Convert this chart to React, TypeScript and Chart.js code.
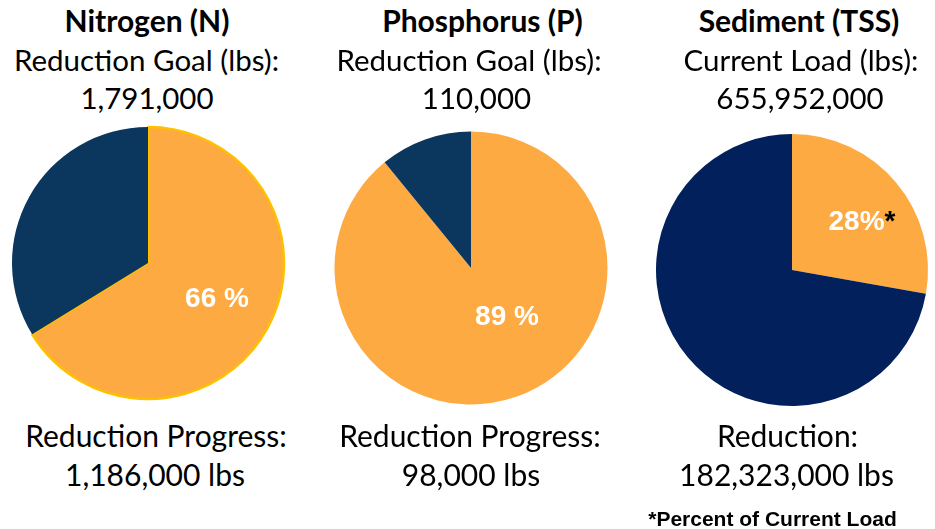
import React, { useEffect, useRef } from "react";
import { Chart, registerables } from "chart.js";

Chart.register(...registerables);

// ---- Data ----
const pollutants = ["Nitrogen (N)", "Phosphorus (P)", "Sediment (TSS)"];
const headerLabels = ["Reduction Goal (lbs):", "Reduction Goal (lbs):", "Current Load (lbs):"];
const headerValues = [1791000, 110000, 655952000];
const progressLabels = ["Reduction Progress:", "Reduction Progress:", "Reduction:"];
const progressValues = [1186000, 98000, 182323000];
const percentLabels = ["66 %", "89 %", "28%"];
const percentSuffix = ["", "", "*"];
const footnote = "*Percent of Current Load";

// ---- Styles / layout ----
const ORANGE = "#FDAA42";
const DARKS = ["#0B375F", "#0B375F", "#02215C"];
const TEXT_FONT = "Lato, 'Open Sans', sans-serif";
const ARIAL = "'Liberation Sans', Arial, sans-serif";

const layout = [
  { cx: 148, cy: 263, r: 136, border: 2.5, t: 147, h1: 146.5, h2: 147, b1: 156, b2: 155, lx: 69, ly: 44 },
  { cx: 471, cy: 268, r: 136.5, border: 0, t: 482.5, h1: 469, h2: 476.5, b1: 470, b2: 471, lx: 36, ly: 57 },
  { cx: 792, cy: 270, r: 136, border: 0, t: 799, h1: 801, h2: 800, b1: 787.5, b2: 786.5, lx: 70, ly: -40 },
];

const fmt = (v: number) => v.toLocaleString("en-US");

const labelPlugin = {
  id: "pctLabel",
  afterDatasetsDraw(chart: any) {
    const idx = chart.options.plugins.pctLabel.idx;
    const L = layout[idx];
    const arc = chart.getDatasetMeta(0).data[0];
    if (!arc) return;
    const { x, y } = arc;
    const ctx = chart.ctx;
    ctx.save();
    ctx.font = `bold 28px ${ARIAL}`;
    ctx.textBaseline = "alphabetic";
    const main = percentLabels[idx];
    const suf = percentSuffix[idx];
    const wMain = ctx.measureText(main).width;
    const wSuf = suf ? ctx.measureText(suf).width : 0;
    const total = wMain + wSuf;
    const sx = x + L.lx - total / 2;
    const by = y + L.ly;
    ctx.textAlign = "left";
    ctx.fillStyle = "#FFFFFF";
    ctx.fillText(main, sx, by);
    if (suf) {
      ctx.fillStyle = "#000000";
      ctx.fillText(suf, sx + wMain, by);
    }
    ctx.restore();
  },
};

function PieCanvas({ idx }: { idx: number }) {
  const ref = useRef<HTMLCanvasElement | null>(null);
  const L = layout[idx];
  useEffect(() => {
    if (!ref.current) return;
    const chart = new Chart(ref.current, {
      type: "pie",
      data: {
        labels: ["Reduced", "Remaining"],
        datasets: [
          {
            data: [progressValues[idx], headerValues[idx] - progressValues[idx]],
            backgroundColor: [ORANGE, DARKS[idx]],
            borderColor: ["#FFC000", DARKS[idx]],
            borderWidth: [L.border, 0],
            radius: L.r,
          } as any,
        ],
      },
      options: {
        responsive: false,
        animation: false,
        events: [],
        layout: { padding: 0 },
        plugins: {
          legend: { display: false },
          tooltip: { enabled: false },
          pctLabel: { idx },
        } as any,
      },
      plugins: [labelPlugin],
    });
    return () => chart.destroy();
  }, [idx]);
  return (
    <canvas
      ref={ref}
      width={300}
      height={300}
      style={{ position: "absolute", left: L.cx - 150, top: L.cy - 150, width: 300, height: 300 }}
    />
  );
}

function Line({ x, baseline, text, size, bold, family }: any) {
  const asc = family === ARIAL ? 0.8465 : 0.887;
  return (
    <div
      style={{
        position: "absolute",
        left: x - 250,
        width: 500,
        top: baseline - asc * size,
        textAlign: "center",
        fontFamily: family,
        fontSize: size,
        lineHeight: `${size}px`,
        fontWeight: bold ? 700 : 400,
        color: "#000",
        whiteSpace: "nowrap",
      }}
    >
      {text}
    </div>
  );
}

export default function App() {
  return (
    <div
      style={{
        position: "absolute",
        left: 0,
        top: 0,
        width: 935,
        height: 529,
        background: "#fff",
        overflow: "hidden",
      }}
    >
      {[0, 1, 2].map((i) => {
        const L = layout[i];
        return (
          <React.Fragment key={i}>
            <Line x={L.t} baseline={32} text={pollutants[i]} size={30} bold family={TEXT_FONT} />
            <Line x={L.h1} baseline={71} text={headerLabels[i]} size={29.5} family={TEXT_FONT} />
            <Line x={L.h2} baseline={109} text={fmt(headerValues[i])} size={29.5} family={TEXT_FONT} />
            <PieCanvas idx={i} />
            <Line x={L.b1} baseline={447} text={progressLabels[i]} size={30} family={TEXT_FONT} />
            <Line x={L.b2} baseline={486} text={`${fmt(progressValues[i])} lbs`} size={30} family={TEXT_FONT} />
          </React.Fragment>
        );
      })}
      <Line x={772.5} baseline={526} text={footnote} size={21} bold family={ARIAL} />
    </div>
  );
}
